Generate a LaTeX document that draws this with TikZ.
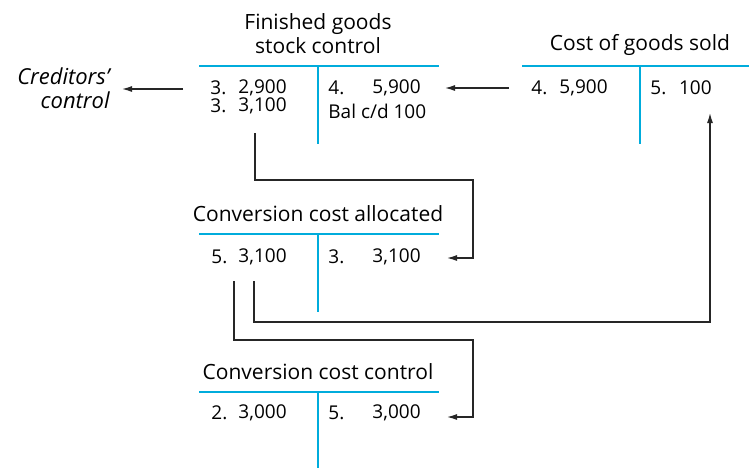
\documentclass[tikz,border=0pt]{standalone}
\usepackage{fontspec}
\setmainfont{Open Sans}
\usetikzlibrary{positioning, arrows, arrows.meta}
\definecolor{tline}{RGB}{0,172,220}
\tikzset{
  acct/.style={draw=tline, line width=1pt},
  head/.style={inner sep=0pt, align=center, font=\fontsize{10.5}{12}\selectfont},
  entry/.style={inner sep=0pt, font=\fontsize{9.5}{11}\selectfont},
  flow/.style={draw=black!85, ->, >={Latex[length=5pt,width=3pt]}, line width=0.6pt}
}

\begin{document}
\begin{tikzpicture}[x=0.5pt,y=-0.5pt]
    \useasboundingbox (0,0) rectangle (749,468);

    % finished goods stock control
    \node (fghead) at (318,34) [head] {Finished goods\\stock control};
    \draw[acct] (199,66) -- (439,66) (318,66) -- (318,144);
    \node (fgdr1)    at (210,88)  [entry,anchor=west] {3.};
    \node (fgdr1amt) at (287,88)  [entry,anchor=east] {2,900};
    \node (fgdr2)    at (210,106) [entry,anchor=west] {3.};
    \node (fgdr2amt) at (287,106) [entry,anchor=east] {3,100};
    \node (fgcr1)    at (328,88)  [entry,anchor=west] {4.};
    \node (fgcr1amt) at (421,88)  [entry,anchor=east] {5,900};
    \node (fgcr2)    at (328,111) [entry,anchor=west] {Bal c/d 100};

    \node (cred) at (110,88) [inner sep=0pt,align=right,font=\fontsize{11}{12}\selectfont\itshape,anchor=east] {Creditors'\\control};

    % cost of goods sold
    \node (cghead) at (640,45) [head] {Cost of goods sold};
    \draw[acct] (522,66) -- (749,66) (640,66) -- (640,144);
    \node (cgdr1)    at (531,88) [entry,anchor=west] {4.};
    \node (cgdr1amt) at (608,88) [entry,anchor=east] {5,900};
    \node (cgcr1)    at (650,88) [entry,anchor=west] {5.};
    \node (cgcr1amt) at (712,88) [entry,anchor=east] {100};

    % conversion cost allocated
    \node (cahead) at (318,214) [head] {Conversion cost allocated};
    \draw[acct] (199,234) -- (439,234) (318,234) -- (318,312);
    \node (cadr1)    at (211,257) [entry,anchor=west] {5.};
    \node (cadr1amt) at (287,257) [entry,anchor=east] {3,100};
    \node (cacr1)    at (328,257) [entry,anchor=west] {3.};
    \node (cacr1amt) at (421,257) [entry,anchor=east] {3,100};

    % conversion cost control
    \node (cchead) at (318,372) [head] {Conversion cost control};
    \draw[acct] (199,392) -- (439,392) (318,392) -- (318,468);
    \node (ccdr1)    at (211,413) [entry,anchor=west] {2.};
    \node (ccdr1amt) at (287,413) [entry,anchor=east] {3,000};
    \node (cccr1)    at (328,413) [entry,anchor=west] {5.};
    \node (cccr1amt) at (421,413) [entry,anchor=east] {3,000};

    % postings between the accounts
    \coordinate (fgout) at (183,89);
    \coordinate (cgout) at (509,88);
    \coordinate (fgtap) at (255,133);
    \coordinate (catapa) at (254,281);
    \coordinate (catapb) at (234,281);
    \coordinate (cgin) at (710,113);
    \coordinate (cain) at (447,258);
    \coordinate (ccin) at (447,417);
    \draw[flow] (fgout) -- ([xshift=6pt]cred.east |- fgout);
    \draw[flow] (cgout) -- ([xshift=12pt]fgcr1amt.east);
    \draw[flow] (fgtap) |- (473,180) |- (cain);
    \draw[flow] (catapa) |- (710,322) -- (cgin);
    \draw[flow] (catapb) |- (473,340) |- (ccin);
\end{tikzpicture}
\end{document}
